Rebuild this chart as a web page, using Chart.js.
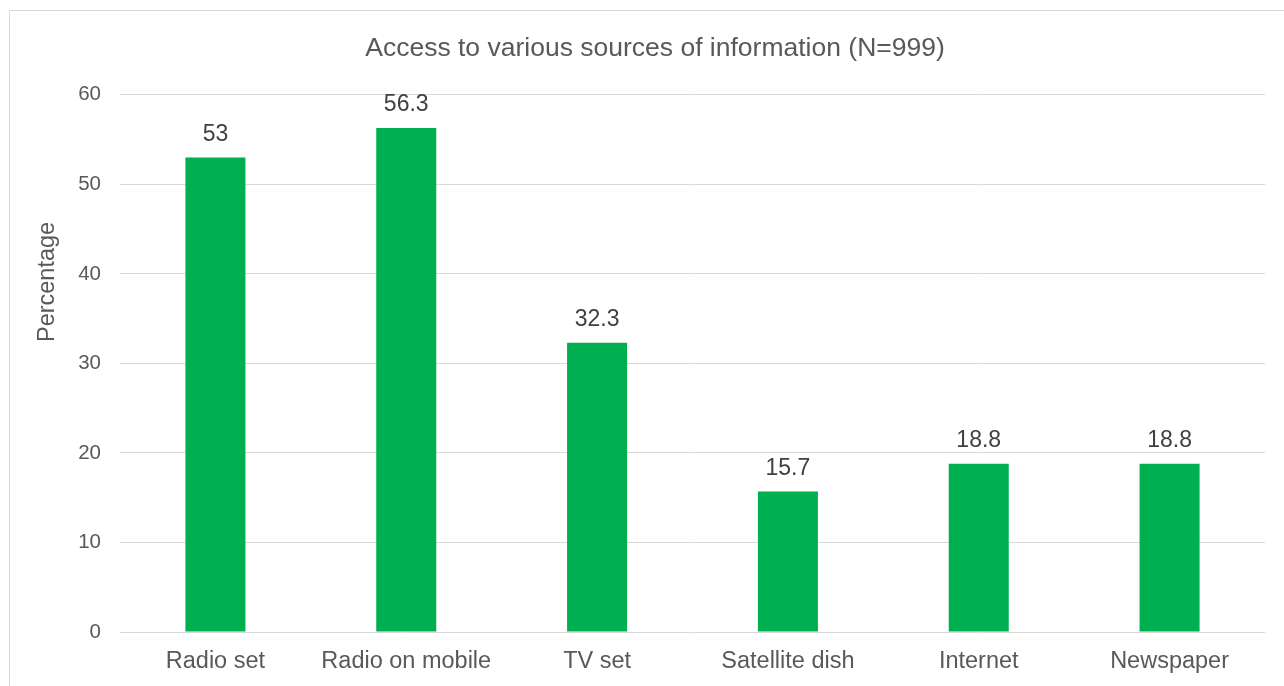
<!DOCTYPE html>
<html>
<head>
<meta charset="utf-8">
<script src="https://cdn.jsdelivr.net/npm/chart.js@4"></script>
<style>
  html, body { margin: 0; padding: 0; background: #fff; overflow: hidden; }
  #frame { position: absolute; left: 9px; top: 10px; width: 1320px; height: 720px; border: 1px solid #d9d9d9; }
  #myChart { position: absolute; left: 0; top: 0; }
</style>
</head>
<body>
<div id="frame"></div>
<canvas id="myChart" width="1284" height="686"></canvas>
<script>
const categories = ['Radio set', 'Radio on mobile', 'TV set', 'Satellite dish', 'Internet', 'Newspaper'];
const values = [53, 56.3, 32.3, 15.7, 18.8, 18.8];
const yTicks = [0, 10, 20, 30, 40, 50, 60];
const chartTitle = 'Access to various sources of information (N=999)';
const yTitle = 'Percentage';

const fontFamily = '"Liberation Sans", Arial, sans-serif';

// value labels above each bar
const barLabels = {
    id: 'barLabels',
    afterDatasetsDraw(chart) {
        const ctx = chart.ctx;
        const meta = chart.getDatasetMeta(0);
        ctx.save();
        ctx.font = '23px ' + fontFamily;
        ctx.fillStyle = '#404040';
        ctx.textAlign = 'center';
        ctx.textBaseline = 'alphabetic';
        meta.data.forEach((bar, i) => {
            ctx.fillText(String(values[i]), bar.x, bar.y - 16.5);
        });
        ctx.restore();
    }
};

// y axis title, placed like the excel one (not centred on the plot)
const yAxisTitle = {
    id: 'yAxisTitle',
    afterDraw(chart) {
        const ctx = chart.ctx;
        const y = chart.scales.y;
        ctx.save();
        ctx.font = '23.5px ' + fontFamily;
        ctx.fillStyle = '#595959';
        ctx.textAlign = 'center';
        ctx.textBaseline = 'middle';
        ctx.translate(y.left + 2.5, y.getPixelForValue(39.1));
        ctx.rotate(-Math.PI / 2);
        ctx.fillText(yTitle, 0, 0);
        ctx.restore();
    }
};

const ctx = document.getElementById('myChart').getContext('2d');
const chart = new Chart(ctx, {
    type: 'bar',
    data: {
        labels: categories,
        datasets: [{
            data: values,
            backgroundColor: '#00B050',
            borderWidth: 0,
            barPercentage: 0.3145,
            categoryPercentage: 1
        }]
    },
    options: {
        responsive: false,
        animation: false,
        devicePixelRatio: 1,
        layout: { padding: { left: 45, right: 19, top: 0, bottom: 0 } },
        plugins: {
            legend: { display: false },
            tooltip: { enabled: false },
            title: {
                display: true,
                text: chartTitle,
                color: '#595959',
                font: { family: fontFamily, size: 26.5, weight: 'normal', lineHeight: 1.2 },
                padding: { top: 33, bottom: 30 }
            }
        },
        scales: {
            x: {
                grid: { display: false, drawTicks: false },
                border: { display: false },
                ticks: {
                    color: '#595959',
                    padding: 15,
                    maxRotation: 0,
                    font: { family: fontFamily, size: 23.5, lineHeight: 1.2 }
                },
                afterFit(scale) { scale.height = 54; }
            },
            y: {
                min: 0,
                max: 60,
                afterBuildTicks(scale) { scale.ticks = yTicks.map(v => ({ value: v })); },
                grid: { color: '#d9d9d9', lineWidth: 1, drawTicks: false },
                border: { display: false },
                ticks: {
                    color: '#595959',
                    padding: 19,
                    font: { family: fontFamily, size: 20.5 }
                },
                afterFit(scale) { scale.width = 75; }
            }
        }
    },
    plugins: [barLabels, yAxisTitle]
});
</script>
</body>
</html>
